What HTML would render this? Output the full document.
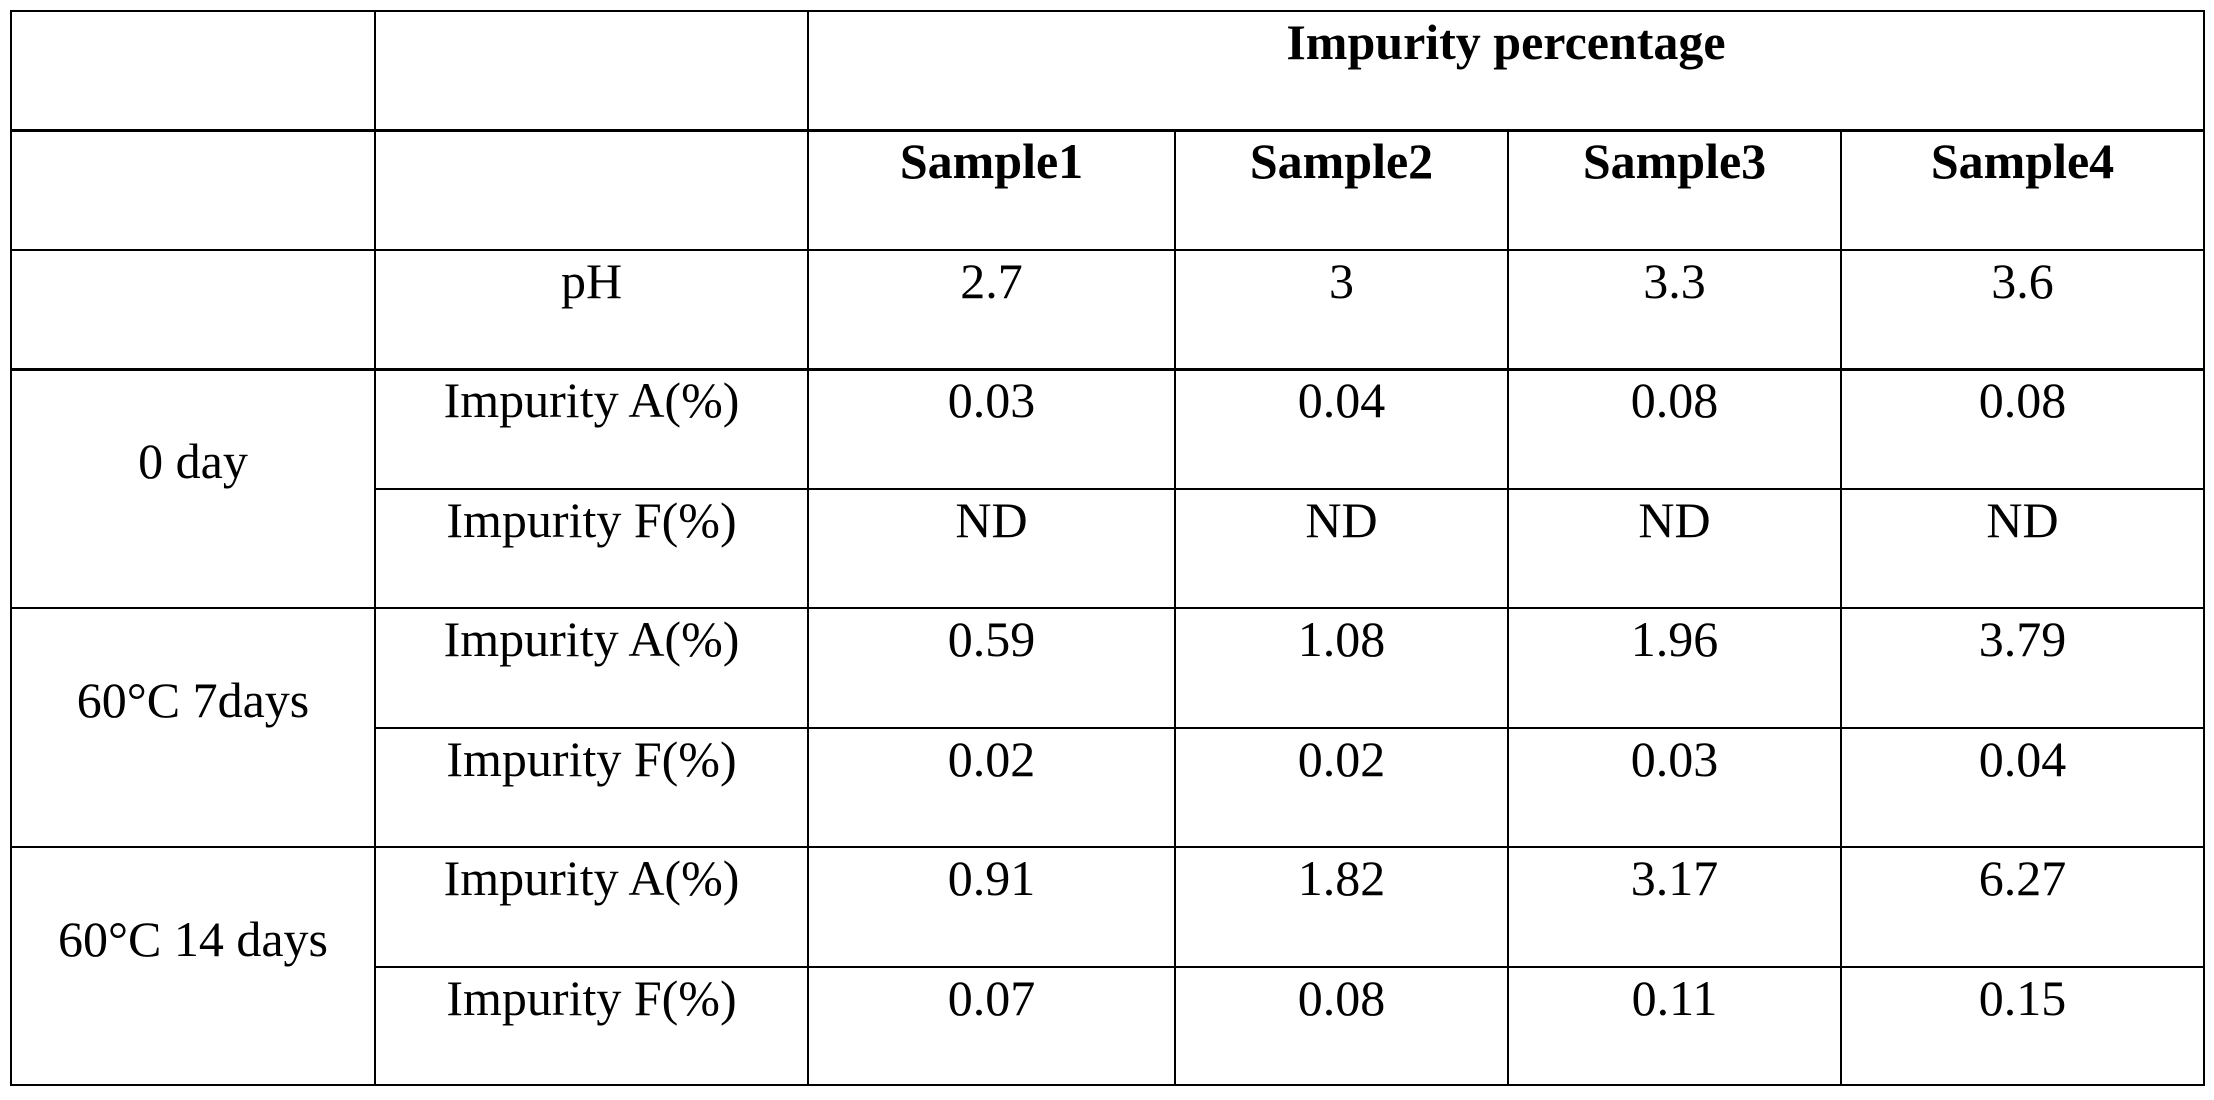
<!DOCTYPE html>
<html>
<head>
<meta charset="utf-8">
<style>
html,body{margin:0;padding:0;background:#fff;}
svg{display:block;}
text{font-family:"Liberation Serif","Times New Roman",serif;font-size:50px;fill:#000;}
.b{font-weight:bold;}
</style>
</head>
<body>
<svg width="2214" height="1100" viewBox="0 0 2214 1100" xmlns="http://www.w3.org/2000/svg">
<rect x="0" y="0" width="2214" height="1100" fill="#fff"/>
<g fill="#000">
<!-- horizontal lines -->
<rect x="10" y="10" width="2195" height="2"/>
<rect x="10" y="129" width="2195" height="3"/>
<rect x="10" y="249" width="2195" height="2"/>
<rect x="10" y="368" width="2195" height="3"/>
<rect x="374" y="488" width="1831" height="2"/>
<rect x="10" y="607" width="2195" height="2"/>
<rect x="374" y="727" width="1831" height="2"/>
<rect x="10" y="846" width="2195" height="2"/>
<rect x="374" y="966" width="1831" height="2"/>
<rect x="10" y="1084" width="2195" height="2"/>
<!-- vertical lines -->
<rect x="10" y="10" width="2" height="1076"/>
<rect x="374" y="10" width="2" height="1076"/>
<rect x="807" y="10" width="2" height="1076"/>
<rect x="1174" y="129" width="2" height="957"/>
<rect x="1507" y="129" width="2" height="957"/>
<rect x="1840" y="129" width="2" height="957"/>
<rect x="2203" y="10" width="2" height="1076"/>
</g>
<g text-anchor="middle">
<text class="b" x="1506" y="59">Impurity percentage</text>
<text class="b" x="991.5" y="178">Sample1</text>
<text class="b" x="1341.5" y="178">Sample2</text>
<text class="b" x="1674.5" y="178">Sample3</text>
<text class="b" x="2022.5" y="178">Sample4</text>

<text x="591.5" y="298">pH</text>
<text x="991.5" y="298">2.7</text>
<text x="1341.5" y="298">3</text>
<text x="1674.5" y="298">3.3</text>
<text x="2022.5" y="298">3.6</text>

<text x="193" y="478">0 day</text>
<text x="591.5" y="417">Impurity A(%)</text>
<text x="991.5" y="417">0.03</text>
<text x="1341.5" y="417">0.04</text>
<text x="1674.5" y="417">0.08</text>
<text x="2022.5" y="417">0.08</text>

<text x="591.5" y="537">Impurity F(%)</text>
<text x="991.5" y="537">ND</text>
<text x="1341.5" y="537">ND</text>
<text x="1674.5" y="537">ND</text>
<text x="2022.5" y="537">ND</text>

<text x="193" y="717">60°C 7days</text>
<text x="591.5" y="656">Impurity A(%)</text>
<text x="991.5" y="656">0.59</text>
<text x="1341.5" y="656">1.08</text>
<text x="1674.5" y="656">1.96</text>
<text x="2022.5" y="656">3.79</text>

<text x="591.5" y="776">Impurity F(%)</text>
<text x="991.5" y="776">0.02</text>
<text x="1341.5" y="776">0.02</text>
<text x="1674.5" y="776">0.03</text>
<text x="2022.5" y="776">0.04</text>

<text x="193" y="956">60°C 14 days</text>
<text x="591.5" y="895">Impurity A(%)</text>
<text x="991.5" y="895">0.91</text>
<text x="1341.5" y="895">1.82</text>
<text x="1674.5" y="895">3.17</text>
<text x="2022.5" y="895">6.27</text>

<text x="591.5" y="1015">Impurity F(%)</text>
<text x="991.5" y="1015">0.07</text>
<text x="1341.5" y="1015">0.08</text>
<text x="1674.5" y="1015">0.11</text>
<text x="2022.5" y="1015">0.15</text>
</g>
</svg>
</body>
</html>
